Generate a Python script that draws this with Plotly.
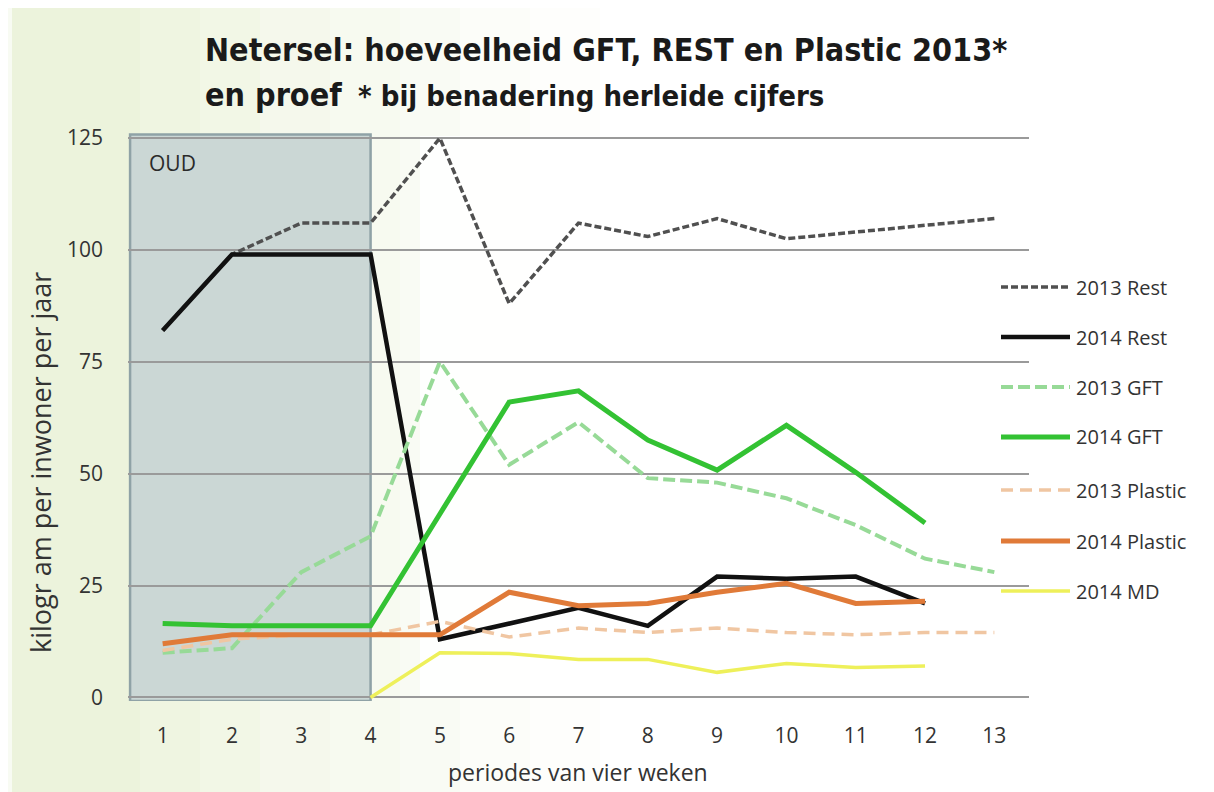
import plotly.graph_objects as go

periods = list(range(1, 14))
rest_2013 = [82, 99, 106, 106, 125, 88, 106, 103, 107, 102.5, 104, 105.5, 107]
rest_2014 = [82, 99, 99, 99, 13, 16.5, 20, 16, 27, 26.5, 27, 21, None]
gft_2013 = [10, 11, 28, 36, 75, 52, 61.5, 49, 48, 44.5, 38.5, 31, 28]
gft_2014 = [16.5, 16, 16, 16, 41, 66, 68.5, 57.5, 50.8, 60.8, 50.3, 39, None]
plastic_2013 = [10.5, 13, 14, 14, 17, 13.5, 15.5, 14.5, 15.5, 14.5, 14, 14.5, 14.5]
plastic_2014 = [12, 14, 14, 14, 14, 23.5, 20.5, 21, 23.5, 25.5, 21, 21.5, None]
md_2014 = [None, None, None, 0, 10, 9.8, 8.5, 8.5, 5.6, 7.6, 6.7, 7, None]
y_ticks = [0, 25, 50, 75, 100, 125]

series_names = ["2013 Rest", "2014 Rest", "2013 GFT", "2014 GFT", "2013 Plastic", "2014 Plastic", "2014 MD"]
series_values = [rest_2013, rest_2014, gft_2013, gft_2014, plastic_2013, plastic_2014, md_2014]
series_colors = ["#505050", "#111111", "#97da97", "#33c233", "#f0c6a2", "#e07a38", "#eef05a"]
series_widths = [3.5, 4.5, 4, 5, 3.5, 5, 3.5]
series_dash = ["7px,3px", None, "12px,5px", None, "12px,7px", None, None]

FONT = "Liberation Sans Narrow, DejaVu Sans Condensed, Arial, sans-serif"
TICKFONT = "Open Sans, DejaVu Sans, sans-serif"

# page offset of the plotly div (browser body margin)
OFF = 8
W, H = 1214 - OFF, 792 - OFF
L, R, T, B = 128 - OFF, 185, 130 - OFF, 91
PW = 1214 - 128 - R  # plot width in px
PH = 792 - 130 - B   # plot height in px


def px_x(px):
    return (px - 128) / PW


def px_y(py):
    return (792 - B - py) / PH


fig = go.Figure()
for name, vals, col, wd, ds in zip(series_names, series_values, series_colors, series_widths, series_dash):
    fig.add_trace(go.Scatter(
        x=periods, y=vals, name=name, mode="lines",
        line=dict(color=col, width=wd, dash=ds),
        connectgaps=False, showlegend=False,
    ))

shapes = []
# pale green page tint fading to the right
bands = [(0, 12, 0.35), (12, 140, 1.0), (140, 200, 0.85), (200, 260, 0.7), (260, 330, 0.55),
         (330, 400, 0.42), (400, 460, 0.3), (460, 530, 0.18), (530, 600, 0.08)]
for x0, x1, op in bands:
    shapes.append(dict(type="rect", xref="paper", yref="paper", x0=px_x(x0), x1=px_x(x1),
                       y0=px_y(800), y1=px_y(0), fillcolor="#ecf3dc", opacity=op,
                       line=dict(width=0), layer="below"))
# white-ish plot region right of the OUD box
shapes.append(dict(type="rect", xref="paper", yref="paper", x0=px_x(420), x1=px_x(1030),
                   y0=px_y(698), y1=px_y(136), fillcolor="#ffffff", opacity=0.85,
                   line=dict(width=0), layer="below"))
# OUD box
shapes.append(dict(type="rect", xref="x", yref="y", x0=0.53, x1=4, y0=-0.8, y1=125.8,
                   fillcolor="#cbd7d5", line=dict(color="#8fa2a6", width=2.5), layer="below"))

# custom legend
leg_y = [287, 337, 387, 437, 490, 541, 591]
annotations = []
for name, col, wd, ds, ly in zip(series_names, series_colors, series_widths, series_dash, leg_y):
    shapes.append(dict(type="line", xref="paper", yref="paper", x0=px_x(1001), x1=px_x(1070),
                       y0=px_y(ly), y1=px_y(ly),
                       line=dict(color=col, width=wd, dash=ds if ds else "solid"), layer="above"))
    annotations.append(dict(text=name, xref="paper", yref="paper", x=px_x(1074), y=px_y(ly),
                            xanchor="left", yanchor="middle", showarrow=False,
                            font=dict(family=TICKFONT, size=20, color="#333333")))

annotations += [
    dict(text="<b>Netersel: hoeveelheid GFT, REST en Plastic 2013*</b>", xref="paper", yref="paper",
         x=px_x(203), y=px_y(50), xanchor="left", yanchor="middle",
         showarrow=False, font=dict(family=FONT, size=32, color="#1a1a1a")),
    dict(text="<b>en proef</b>", xref="paper", yref="paper",
         x=px_x(203), y=px_y(95), xanchor="left", yanchor="middle",
         showarrow=False, font=dict(family=FONT, size=32, color="#1a1a1a")),
    dict(text="<b>* bij benadering herleide cijfers</b>", xref="paper", yref="paper",
         x=px_x(356), y=px_y(96), xanchor="left", yanchor="middle",
         showarrow=False, font=dict(family=FONT, size=29, color="#1a1a1a")),
    dict(text="OUD", xref="paper", yref="paper",
         x=px_x(147), y=px_y(163), xanchor="left", yanchor="middle",
         showarrow=False, font=dict(family=TICKFONT, size=21, color="#2a2a2a")),
    dict(text="periodes van vier weken", xref="paper", yref="paper",
         x=px_x(578), y=px_y(772), xanchor="center", yanchor="middle",
         showarrow=False, font=dict(family=TICKFONT, size=23, color="#333333")),
    dict(text="kilogr am per inwoner per jaar", xref="paper", yref="paper",
         x=px_x(40), y=px_y(463), xanchor="center", yanchor="middle",
         textangle=-90, showarrow=False, font=dict(family=TICKFONT, size=27, color="#333333")),
]

fig.update_layout(
    width=W, height=H,
    margin=dict(l=L, r=R, t=T, b=B, pad=0),
    paper_bgcolor="#ffffff", plot_bgcolor="rgba(255,255,255,0)",
    shapes=shapes,
    annotations=annotations,
    showlegend=False,
    xaxis=dict(range=[0.5, 13.5], tickvals=periods, ticktext=[str(p) for p in periods],
               showgrid=False, zeroline=False, showline=False, ticks="",
               tickfont=dict(family=TICKFONT, size=21, color="#333333"),
               ticklabelstandoff=20),
    yaxis=dict(range=[-0.8, 126.8], tickvals=y_ticks, ticktext=[str(v) for v in y_ticks],
               showgrid=True, gridcolor="#9a9a9a", gridwidth=2, zeroline=False,
               showline=False, ticks="",
               tickfont=dict(family=TICKFONT, size=21, color="#333333"),
               ticklabelstandoff=24),
)

fig.write_html("out.html")
